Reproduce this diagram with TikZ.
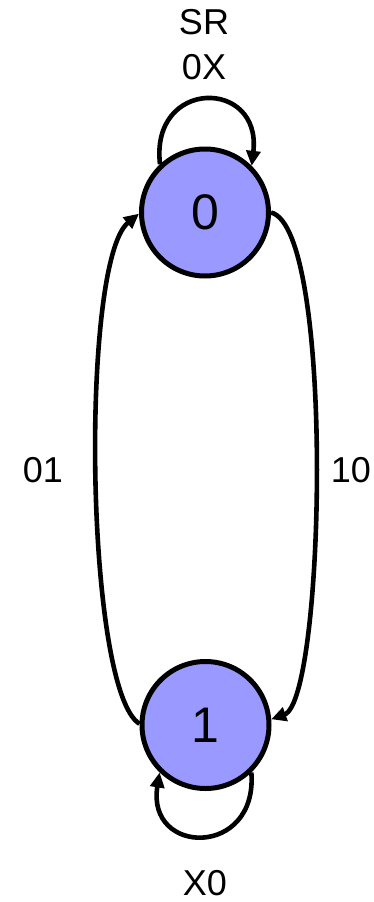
\documentclass[tikz,border=0pt]{standalone}
\usepackage{fontspec}
\setmainfont{Liberation Sans}
\usetikzlibrary{arrows.meta}
\definecolor{statefill}{RGB}{153,153,255}
\tikzset{
  state/.style={circle,draw=black,line width=5pt,fill=statefill,minimum size=127pt,inner sep=0pt,font=\fontsize{50}{54}\selectfont},
  lbl/.style={font=\fontsize{36}{40}\selectfont,inner sep=0pt},
  conn/.style={line width=4.6pt,-{Triangle[length=15pt,width=14pt]}}
}
\begin{document}
\begin{tikzpicture}[x=1pt,y=-1pt]
\useasboundingbox (0,0) rectangle (373,902);
\node[state] (n0) at (205,212.5) {0};
\node[state] (n1) at (205.5,725) {1};
\node[lbl] (lsr) at (204,22.5) {SR};
\node[lbl] (l0x) at (204,67.5) {0X};
\node[lbl] (l01) at (43,470) {01};
\node[lbl] (l10) at (351,470) {10};
\node[lbl] (lx0) at (205,883) {X0};
% self loops
\draw[conn] (n0.133) .. controls (150,78) and (262,78) .. (n0.45);
\draw[conn] (n1.-46) .. controls (258,858) and (146,856) .. (n1.-134);
% long arcs
\draw[conn] (n1.179) .. controls (85,690) and (80,262) .. (n0.181);
\draw[conn] (n0.0) .. controls (335,228) and (325,700) .. (n1.5);
\end{tikzpicture}
\end{document}
